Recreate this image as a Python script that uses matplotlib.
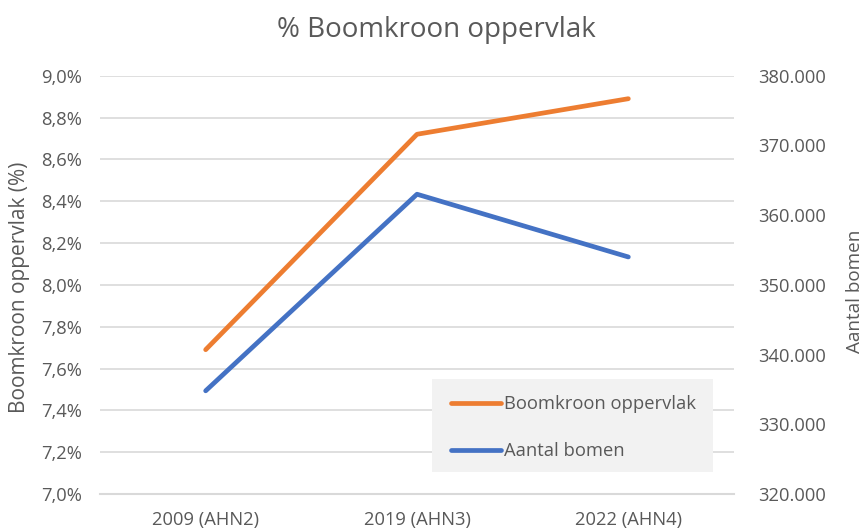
import matplotlib
matplotlib.use("Agg")
import matplotlib.pyplot as plt
from matplotlib.patches import Rectangle
from matplotlib.ticker import FuncFormatter, MultipleLocator

# ---- data ----
categories = ["2009 (AHN2)", "2019 (AHN3)", "2022 (AHN4)"]
boomkroon_pct = [7.69, 8.72, 8.89]          # % boomkroon oppervlak (left axis)
aantal_bomen = [334800, 363000, 354000]      # aantal bomen (right axis)
series_names = ["Boomkroon oppervlak", "Aantal bomen"]
title = "% Boomkroon oppervlak"
left_label = "Boomkroon oppervlak (%)"
right_label = "Aantal bomen"

TEXT = "#595959"
GRID = "#d9d9d9"
ORANGE = "#ED7D31"
BLUE = "#4472C4"
plt.rcParams["font.family"] = ["Open Sans", "DejaVu Sans"]
FS = 13.2

W, H = 865, 531
fig = plt.figure(figsize=(W / 100, H / 100), dpi=100)
L, R, T, B = 100, 734, 75.7, 494
ax = fig.add_axes([L / W, 1 - B / H, (R - L) / W, (B - T) / H])
ax2 = ax.twinx()

x = list(range(len(categories)))
l1, = ax.plot(x, boomkroon_pct, color=ORANGE, lw=3.4, solid_capstyle="round",
              solid_joinstyle="round", label=series_names[0], zorder=3)
l2, = ax2.plot(x, aantal_bomen, color=BLUE, lw=3.4, solid_capstyle="round",
               solid_joinstyle="round", label=series_names[1], zorder=3)

ax.set_xlim(-0.5, len(categories) - 0.5)
ax.set_ylim(7.0, 9.0)
ax2.set_ylim(320000, 380000)
ax.yaxis.set_major_locator(MultipleLocator(0.2))
ax2.yaxis.set_major_locator(MultipleLocator(10000))
ax.yaxis.set_major_formatter(FuncFormatter(lambda v, p: f"{v:.1f}%".replace(".", ",")))
ax2.yaxis.set_major_formatter(FuncFormatter(lambda v, p: f"{v:,.0f}".replace(",", ".")))
ax.set_xticks(x)
ax.set_xticklabels(categories)

ax.grid(axis="y", color=GRID, lw=1.2, zorder=0)
ax.set_axisbelow(True)
for a in (ax, ax2):
    for s in a.spines.values():
        s.set_visible(False)
ax.spines["bottom"].set_visible(True)
ax.spines["bottom"].set_color(GRID)
ax.spines["bottom"].set_linewidth(1.5)

ax.tick_params(axis="y", length=0, pad=13, labelsize=FS, labelcolor=TEXT)
ax.tick_params(axis="x", length=0, pad=12, labelsize=FS, labelcolor=TEXT)
ax2.tick_params(axis="y", length=0, pad=17.3, labelsize=FS, labelcolor=TEXT)

fig.text(436 / W, 1 - 30 / H, title, ha="center", va="center", fontsize=20, color=TEXT)
fig.text(20 / W, 1 - 287 / H, left_label, ha="center", va="center", rotation=90,
         fontsize=15, color=TEXT)
fig.text(855 / W, 1 - 291 / H, right_label, ha="center", va="center", rotation=90,
         fontsize=13.6, color=TEXT)

# legend background box
def ax_x(px):
    return (px - L) / (R - L)

def ax_y(py):
    return (B - py) / (B - T)

ax2.add_patch(Rectangle((ax_x(432), ax_y(472)), ax_x(713) - ax_x(432),
                        ax_y(379) - ax_y(472), transform=ax2.transAxes,
                        facecolor="#f2f2f2", edgecolor="none", zorder=1))
leg = ax2.legend(handles=[l1, l2], loc="upper left",
                 bbox_to_anchor=(ax_x(451), ax_y(395)),
                 frameon=False, fontsize=FS, labelcolor=TEXT, handlelength=2.73,
                 handletextpad=0.17, labelspacing=1.6, borderpad=0, borderaxespad=0)
leg.set_zorder(5)

fig.savefig("out.png", dpi=100)
